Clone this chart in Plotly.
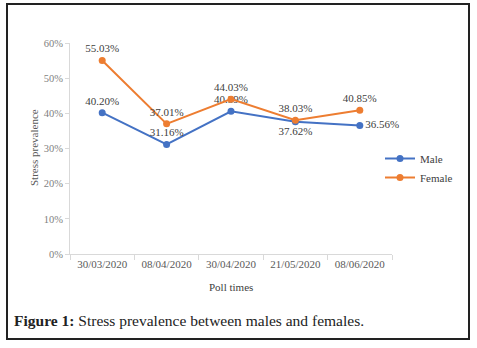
import plotly.graph_objects as go

dates = ["30/03/2020", "08/04/2020", "30/04/2020", "21/05/2020", "08/06/2020"]
male = [0.4020, 0.3116, 0.4059, 0.3762, 0.3656]
female = [0.5503, 0.3701, 0.4403, 0.3803, 0.4085]
male_pos = ["top center", "top center", "top center", "bottom center", "middle right"]
female_pos = ["top center"] * 5

W, H = 477, 348
SERIF = "Liberation Serif, DejaVu Serif, serif"

fig = go.Figure()
fig.add_trace(go.Scatter(
    x=dates, y=male, name="Male", mode="lines+markers+text",
    line=dict(color="#4472C4", width=2), marker=dict(size=7, color="#4472C4"),
    text=[f"{v*100:.2f}%" for v in male], textposition=male_pos,
    textfont=dict(size=11, color="#404040", family=SERIF), cliponaxis=False,
))
fig.add_trace(go.Scatter(
    x=dates, y=female, name="Female", mode="lines+markers+text",
    line=dict(color="#ED7D31", width=2), marker=dict(size=7, color="#ED7D31"),
    text=[f"{v*100:.2f}%" for v in female], textposition=female_pos,
    textfont=dict(size=11, color="#404040", family=SERIF), cliponaxis=False,
))

fig.update_layout(
    width=W, height=H,
    margin=dict(l=0, r=0, t=0, b=0, autoexpand=False),
    paper_bgcolor="white", plot_bgcolor="white",
    font=dict(family=SERIF, size=11, color="#595959"),
    xaxis=dict(
        domain=[70 / W, 392 / W], type="category", automargin=False,
        range=[-0.5, len(dates) - 0.5],
        showline=True, linecolor="#d9d9d9", linewidth=1,
        ticks="outside", tickson="boundaries", ticklen=5, tickcolor="#d9d9d9",
        showgrid=False, tickfont=dict(size=11, color="#595959"),
    ),
    yaxis=dict(
        domain=[1 - 254 / H, 1 - 43 / H], range=[0, 0.6], dtick=0.1, automargin=False,
        tickformat=".0%", showline=True, linecolor="#d9d9d9", linewidth=1,
        ticks="outside", ticklen=4, tickcolor="#d9d9d9",
        showgrid=False, zeroline=False, tickfont=dict(size=10.5, color="#7f7f7f"),
    ),
    legend=dict(
        x=380 / W, y=1 - 144 / H, xanchor="left", yanchor="top",
        font=dict(size=11, color="#404040"), bgcolor="rgba(0,0,0,0)",
        itemwidth=30,
    ),
    showlegend=True,
    shapes=[dict(
        type="rect", xref="paper", yref="paper",
        x0=7 / W, x1=469 / W, y0=1 - 339 / H, y1=1 - 4 / H,
        line=dict(color="#222222", width=2),
    )],
    annotations=[
        dict(
            xref="paper", yref="paper", x=12 / W, y=1 - 320 / H,
            xanchor="left", yanchor="middle", showarrow=False,
            text="<b>Figure 1:</b> Stress prevalence between males and females.",
            font=dict(size=15.5, color="#222222", family=SERIF),
        ),
        dict(
            xref="paper", yref="paper", x=231 / W, y=1 - 287 / H,
            xanchor="center", yanchor="middle", showarrow=False,
            text="Poll times", font=dict(size=11, color="#404040", family=SERIF),
        ),
        dict(
            xref="paper", yref="paper", x=34 / W, y=1 - 148 / H,
            xanchor="center", yanchor="middle", showarrow=False, textangle=-90,
            text="Stress prevalence", font=dict(size=11, color="#595959", family=SERIF),
        ),
    ],
)

fig.write_html("out.html", config={"displayModeBar": False},
               post_script="document.body.style.margin='0';")
